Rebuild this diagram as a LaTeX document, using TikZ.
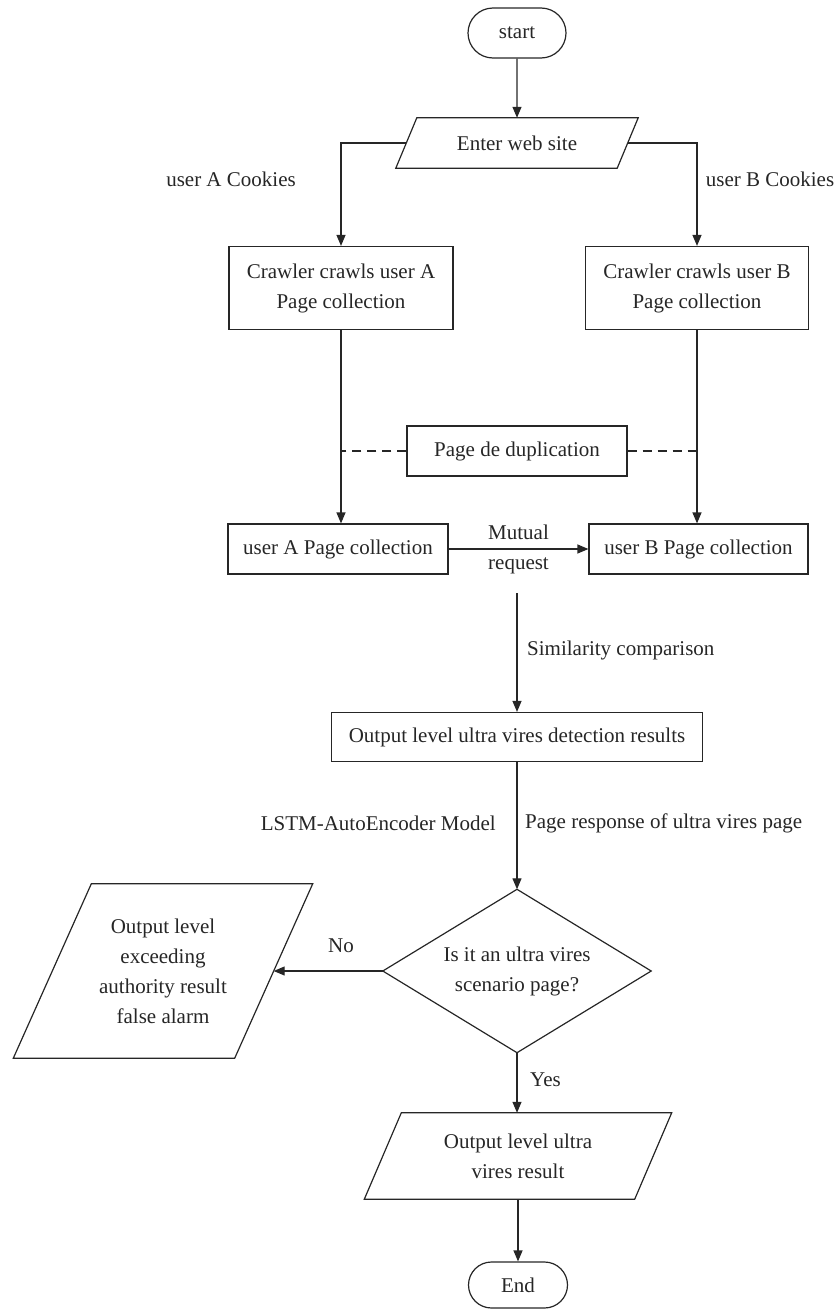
\documentclass[tikz,border=0pt]{standalone}
\usepackage{fontspec}
\setmainfont{Liberation Serif}
\usetikzlibrary{arrows.meta,shapes.misc}
\tikzset{
  every node/.style={font=\fontsize{21}{30}\selectfont, text=black!85},
  base/.style={draw=black!85, line width=1.2pt},
  box/.style={base, rectangle, align=center, inner sep=2pt},
  term/.style={base, rounded rectangle, inner sep=2pt},
  ghost/.style={rectangle, align=center, inner sep=2pt},
  line/.style={draw=black!85, line width=1.2pt},
  arrow/.style={line, -{Triangle[length=11pt,width=9pt]}},
  dash line/.style={line, dash pattern=on 9pt off 6pt},
  lbl/.style={inner sep=0pt}
}
\newcommand\paral[2]{\draw[line] ([xshift=#2pt]#1.north west) -- ([xshift=#2pt]#1.north east) -- ([xshift=-#2pt]#1.south east) -- ([xshift=-#2pt]#1.south west) -- cycle;}
\begin{document}
\begin{tikzpicture}[x=1pt,y=-1pt]
\useasboundingbox (0,0) rectangle (835,1309);
% nodes
\node[term, minimum width=102pt, minimum height=50pt] (start) at (517,33) {start};
\node[ghost, minimum width=221pt, minimum height=50pt] (web) at (517,143) {Enter web site};
\paral{web}{10.5}
\node[box, minimum width=224pt, minimum height=83pt] (crawlA) at (341,288) {Crawler crawls user A\\Page collection};
\node[box, minimum width=223pt, minimum height=83pt] (crawlB) at (697,288) {Crawler crawls user B\\Page collection};
\node[box, minimum width=220pt, minimum height=50pt] (dedup) at (517,451) {Page de duplication};
\node[box, minimum width=220pt, minimum height=50pt] (userA) at (338,549) {user A Page collection};
\node[box, minimum width=219pt, minimum height=50pt] (userB) at (698.5,549) {user B Page collection};
\coordinate (simstart) at (517,593);
\node[box, minimum width=371pt, minimum height=49pt] (det) at (517,737) {Output level ultra vires detection results};
\node[ghost, minimum width=268pt, minimum height=163pt] (dia) at (517,971) {Is it an ultra vires\\scenario page?};
\draw[line] (dia.north) -- (dia.east) -- (dia.south) -- (dia.west) -- cycle;
\node[ghost, minimum width=221pt, minimum height=174pt] (fa) at (163,971) {Output level\\exceeding\\authority result\\false alarm};
\paral{fa}{39}
\node[ghost, minimum width=270pt, minimum height=86pt] (res) at (518,1156) {Output level ultra\\vires result};
\paral{res}{18.5}
\node[term, minimum width=103pt, minimum height=46pt] (end) at (518,1285) {End};
% connectors
\draw[arrow] (start) -- (web);
\draw[arrow] (web.west) -| (crawlA.north);
\draw[arrow] (web.east) -| (crawlB.north);
\draw[arrow] (crawlA.south) -- (crawlA.south |- userA.north);
\draw[arrow] (crawlB.south) -- (crawlB.south |- userB.north);
\draw[dash line] (dedup.west) -- (crawlA.south |- dedup.west);
\draw[dash line] (dedup.east) -- (crawlB.south |- dedup.east);
\draw[arrow] (userA.east) -- node[align=center, inner sep=0pt] {Mutual\\request} (userB.west);
\draw[arrow] (simstart) -- (det.north);
\draw[arrow] (det.south) -- (dia.north);
\draw[arrow] (dia.west) -- (dia.west -| fa.east);
\draw[arrow] (dia.south) -- (dia.south |- res.north);
\draw[arrow] (res.south) -- (res.south |- end.north);
% labels
\node[lbl] (lA) at (231,179) {user A Cookies};
\node[lbl] (lB) at (770,179) {user B Cookies};
\node[lbl, anchor=west] (lsim) at (527,650) {Similarity comparison};
\node[lbl, anchor=east] (llstm) at (496,823) {LSTM-AutoEncoder Model};
\node[lbl, anchor=west] (lpage) at (525,823) {Page response of ultra vires page};
\node[lbl] (lno) at (341,946) {No};
\node[lbl, anchor=west] (lyes) at (530,1080) {Yes};
\end{tikzpicture}
\end{document}
